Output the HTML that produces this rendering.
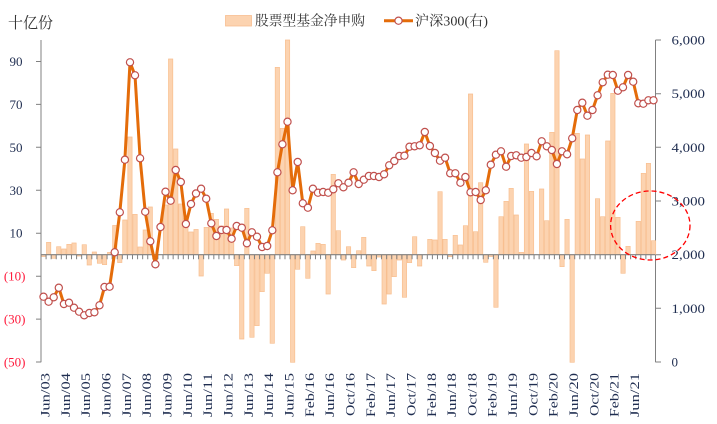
<!DOCTYPE html>
<html><head><meta charset="utf-8"><style>
html,body{margin:0;padding:0;background:#fff;}
svg{display:block;}
.ax{font-family:"Liberation Serif",serif;font-size:13px;fill:#1f2d50;}
.xl{font-family:"Liberation Serif",serif;font-size:12.5px;fill:#1f2d50;}
.cj{font-family:"Liberation Serif","Noto Serif CJK SC",serif;fill:#333;}
</style></head><body>
<svg width="717" height="424" viewBox="0 0 717 424" xmlns="http://www.w3.org/2000/svg">
<defs>
<marker id="mk" markerWidth="10" markerHeight="10" refX="5" refY="5" markerUnits="userSpaceOnUse" overflow="visible">
<circle cx="5" cy="5" r="3.6" fill="#fff" stroke="#c0504d" stroke-width="1.2"/>
</marker>
</defs>
<rect width="717" height="424" fill="#fff"/>
<text class="cj" x="8" y="28" font-size="15.5" textLength="45" lengthAdjust="spacingAndGlyphs">十亿份</text>
<rect x="225.5" y="15.5" width="26" height="10.5" fill="#fcd3b0" stroke="#f8bf90" stroke-width="0.8"/>
<text class="cj" x="255" y="25.5" font-size="14" textLength="110" lengthAdjust="spacingAndGlyphs">股票型基金净申购</text>
<line x1="384" y1="20.7" x2="413" y2="20.7" stroke="#e46c0a" stroke-width="3"/>
<circle cx="398.5" cy="20.7" r="3.6" fill="#fff" stroke="#c0504d" stroke-width="1.2"/>
<text class="cj" x="415" y="25.5" font-size="14" textLength="73" lengthAdjust="spacingAndGlyphs">沪深300(右)</text>

<g stroke="#808080" stroke-width="1" fill="none">
<path d="M41,40V362.3M655.5,40V362.3"/>
<path d="M36,61.5H41M36,104.4H41M36,147.3H41M36,190.3H41M36,233.2H41M36,276.2H41M36,319.1H41M36,362H41"/>
<path d="M655.5,40H661M655.5,93.7H661M655.5,147.3H661M655.5,201H661M655.5,254.7H661M655.5,308.3H661M655.5,362H661"/>
</g>
<g class="ax" text-anchor="end" dominant-baseline="central">
<text x="22.5" y="61.5">90</text>
<text x="22.5" y="104.4">70</text>
<text x="22.5" y="147.3">50</text>
<text x="22.5" y="190.3">30</text>
<text x="22.5" y="233.2">10</text>
<text x="25.5" y="276.2" style="fill:#ff1a3c">(10)</text>
<text x="25.5" y="319.1" style="fill:#ff1a3c">(30)</text>
<text x="25.5" y="362" style="fill:#ff1a3c">(50)</text>
</g>
<g class="ax" dominant-baseline="central">
<text x="671.5" y="40" textLength="33.5" lengthAdjust="spacingAndGlyphs">6,000</text>
<text x="671.5" y="93.7" textLength="33.5" lengthAdjust="spacingAndGlyphs">5,000</text>
<text x="671.5" y="147.3" textLength="33.5" lengthAdjust="spacingAndGlyphs">4,000</text>
<text x="671.5" y="201" textLength="33.5" lengthAdjust="spacingAndGlyphs">3,000</text>
<text x="671.5" y="254.7" textLength="33.5" lengthAdjust="spacingAndGlyphs">2,000</text>
<text x="671.5" y="308.3" textLength="33.5" lengthAdjust="spacingAndGlyphs">1,000</text>
<text x="671.5" y="362">0</text>
</g>

<path fill="#fcd3b0" stroke="#f8bf90" stroke-width="0.7" d="M41.4,254.7V256.5h4.3V254.7z M46.5,254.7V242.3h4.3V254.7z M51.6,254.7V258.3h4.3V254.7z M56.6,254.7V246.7h4.3V254.7z M61.7,254.7V249h4.3V254.7z M66.8,254.7V244.3h4.3V254.7z M71.9,254.7V243h4.3V254.7z M77,254.7V256h4.3V254.7z M82.1,254.7V244.7h4.3V254.7z M87.1,254.7V265h4.3V254.7z M92.2,254.7V252h4.3V254.7z M97.3,254.7V263.3h4.3V254.7z M102.4,254.7V264.7h4.3V254.7z M107.5,254.7V252.3h4.3V254.7z M112.6,254.7V225.5h4.3V254.7z M117.6,254.7V262.5h4.3V254.7z M122.7,254.7V220h4.3V254.7z M127.8,254.7V137h4.3V254.7z M132.9,254.7V214.3h4.3V254.7z M138,254.7V247h4.3V254.7z M143.1,254.7V230h4.3V254.7z M148.1,254.7V207h4.3V254.7z M163.4,254.7V205h4.3V254.7z M168.5,254.7V59h4.3V254.7z M173.6,254.7V149h4.3V254.7z M178.6,254.7V204h4.3V254.7z M183.7,254.7V218h4.3V254.7z M188.8,254.7V232h4.3V254.7z M193.9,254.7V229.5h4.3V254.7z M199,254.7V276h4.3V254.7z M204.1,254.7V227.3h4.3V254.7z M209.1,254.7V213.3h4.3V254.7z M214.2,254.7V219.3h4.3V254.7z M219.3,254.7V226h4.3V254.7z M224.4,254.7V209h4.3V254.7z M229.5,254.7V228h4.3V254.7z M234.5,254.7V265.7h4.3V254.7z M239.6,254.7V339h4.3V254.7z M244.7,254.7V208.3h4.3V254.7z M249.8,254.7V337.3h4.3V254.7z M254.9,254.7V325.7h4.3V254.7z M260,254.7V291.7h4.3V254.7z M265,254.7V273.3h4.3V254.7z M270.1,254.7V343.3h4.3V254.7z M275.2,254.7V67.3h4.3V254.7z M280.3,254.7V128.3h4.3V254.7z M285.4,254.7V40h4.3V254.7z M290.5,254.7V362.3h4.3V254.7z M295.5,254.7V269.3h4.3V254.7z M300.6,254.7V226.7h4.3V254.7z M305.7,254.7V278.3h4.3V254.7z M310.8,254.7V251h4.3V254.7z M315.9,254.7V243.3h4.3V254.7z M321,254.7V244.3h4.3V254.7z M326,254.7V294h4.3V254.7z M331.1,254.7V174.3h4.3V254.7z M336.2,254.7V230.7h4.3V254.7z M341.3,254.7V260h4.3V254.7z M346.4,254.7V246.7h4.3V254.7z M351.5,254.7V267.7h4.3V254.7z M356.5,254.7V250.7h4.3V254.7z M361.6,254.7V237.3h4.3V254.7z M366.7,254.7V266h4.3V254.7z M371.8,254.7V270.7h4.3V254.7z M376.9,254.7V257h4.3V254.7z M382,254.7V304h4.3V254.7z M387,254.7V294h4.3V254.7z M392.1,254.7V276.7h4.3V254.7z M397.2,254.7V260h4.3V254.7z M402.3,254.7V297.3h4.3V254.7z M407.4,254.7V262.7h4.3V254.7z M412.5,254.7V236.7h4.3V254.7z M417.5,254.7V266h4.3V254.7z M427.7,254.7V239.3h4.3V254.7z M432.8,254.7V240h4.3V254.7z M437.9,254.7V191.7h4.3V254.7z M442.9,254.7V239.3h4.3V254.7z M448,254.7V256.7h4.3V254.7z M453.1,254.7V235.3h4.3V254.7z M458.2,254.7V245h4.3V254.7z M463.3,254.7V225.7h4.3V254.7z M468.4,254.7V94h4.3V254.7z M473.4,254.7V231.7h4.3V254.7z M478.5,254.7V182.7h4.3V254.7z M483.6,254.7V262.3h4.3V254.7z M488.7,254.7V256.5h4.3V254.7z M493.8,254.7V307.3h4.3V254.7z M498.9,254.7V216.7h4.3V254.7z M503.9,254.7V201.3h4.3V254.7z M509,254.7V188.3h4.3V254.7z M514.1,254.7V215h4.3V254.7z M519.2,254.7V252.3h4.3V254.7z M524.3,254.7V144h4.3V254.7z M529.4,254.7V191.3h4.3V254.7z M539.5,254.7V189h4.3V254.7z M544.6,254.7V220.7h4.3V254.7z M549.7,254.7V132.3h4.3V254.7z M554.8,254.7V50.7h4.3V254.7z M559.9,254.7V266.7h4.3V254.7z M564.9,254.7V219.3h4.3V254.7z M570,254.7V362.3h4.3V254.7z M575.1,254.7V133.3h4.3V254.7z M580.2,254.7V159h4.3V254.7z M585.3,254.7V135h4.3V254.7z M595.4,254.7V198.7h4.3V254.7z M600.5,254.7V216.7h4.3V254.7z M605.6,254.7V141h4.3V254.7z M610.7,254.7V93.3h4.3V254.7z M615.8,254.7V217.3h4.3V254.7z M620.9,254.7V273.3h4.3V254.7z M625.9,254.7V246.3h4.3V254.7z M636.1,254.7V221.3h4.3V254.7z M641.2,254.7V173.3h4.3V254.7z M646.3,254.7V163.3h4.3V254.7z M651.4,254.7V240.7h4.3V254.7z"/>

<line x1="41" y1="254.7" x2="655.5" y2="254.7" stroke="#808080" stroke-width="1.2"/>
<line x1="40.5" y1="257" x2="655.5" y2="257" stroke="#808080" stroke-width="4.5" stroke-dasharray="1 4.083"/>

<polyline fill="none" stroke="#e46c0a" stroke-width="3" stroke-linejoin="round" marker-start="url(#mk)" marker-mid="url(#mk)" marker-end="url(#mk)" points="43.5,296.7 48.6,301.7 53.7,297.3 58.8,287.7 63.9,304 69.0,302.7 74.0,307.7 79.1,311.7 84.2,315.3 89.3,313 94.4,312.3 99.5,305.3 104.5,287 109.6,286.7 114.7,252.3 119.8,212.3 124.9,159.7 130.0,62.3 135.0,75.3 140.1,158.3 145.2,211.7 150.3,241.3 155.4,264.3 160.5,227 165.5,191.7 170.6,200.7 175.7,170 180.8,182 185.9,224 191.0,204 196.0,193.5 201.1,188.7 206.2,198.7 211.3,223.3 216.4,236 221.4,230 226.5,230 231.6,238.7 236.7,226 241.8,227.7 246.9,243.3 251.9,232.3 257.0,236.7 262.1,247 267.2,246 272.3,230.3 277.4,172.3 282.4,144.3 287.5,121.7 292.6,190.3 297.7,162 302.8,203.3 307.9,207.7 312.9,188.7 318.0,192.7 323.1,192 328.2,192.7 333.3,189.3 338.4,183.3 343.4,187.3 348.5,182.7 353.6,172.3 358.7,184 363.8,179.7 368.9,176 373.9,176 379.0,177 384.1,174.3 389.2,165.3 394.3,161 399.4,156 404.4,155.7 409.5,146.7 414.6,146.3 419.7,145.3 424.8,132 429.9,146 434.9,153 440.0,160.7 445.1,157.7 450.2,173.3 455.3,173.3 460.4,182.7 465.4,177 470.5,192.3 475.6,192 480.7,200 485.8,190.3 490.8,164.7 495.9,154.7 501.0,151.3 506.1,166.7 511.2,156 516.3,155.3 521.3,157.7 526.4,157 531.5,153 536.6,156.3 541.7,141.3 546.8,146.3 551.8,150 556.9,164 562.0,151.3 567.1,154.3 572.2,138.3 577.3,110 582.3,102.7 587.4,115.7 592.5,110 597.6,95.3 602.7,82.3 607.8,74.7 612.8,75 617.9,90.7 623.0,87.3 628.1,75 633.2,81.7 638.3,103.3 643.3,103.7 648.4,100.3 653.5,100.3"/>

<ellipse cx="650.3" cy="225.5" rx="39.7" ry="34.5" fill="none" stroke="#ff0000" stroke-width="1.3" stroke-dasharray="5,3"/>

<g class="xl" text-anchor="end">
<text transform="translate(45,373) rotate(-90)" dy="0.35em" textLength="44" lengthAdjust="spacingAndGlyphs">Jun/03</text>
<text transform="translate(65.4,373) rotate(-90)" dy="0.35em" textLength="44" lengthAdjust="spacingAndGlyphs">Jun/04</text>
<text transform="translate(85.7,373) rotate(-90)" dy="0.35em" textLength="44" lengthAdjust="spacingAndGlyphs">Jun/05</text>
<text transform="translate(106,373) rotate(-90)" dy="0.35em" textLength="44" lengthAdjust="spacingAndGlyphs">Jun/06</text>
<text transform="translate(126.4,373) rotate(-90)" dy="0.35em" textLength="44" lengthAdjust="spacingAndGlyphs">Jun/07</text>
<text transform="translate(146.7,373) rotate(-90)" dy="0.35em" textLength="44" lengthAdjust="spacingAndGlyphs">Jun/08</text>
<text transform="translate(167,373) rotate(-90)" dy="0.35em" textLength="44" lengthAdjust="spacingAndGlyphs">Jun/09</text>
<text transform="translate(187.4,373) rotate(-90)" dy="0.35em" textLength="44" lengthAdjust="spacingAndGlyphs">Jun/10</text>
<text transform="translate(207.7,373) rotate(-90)" dy="0.35em" textLength="44" lengthAdjust="spacingAndGlyphs">Jun/11</text>
<text transform="translate(228,373) rotate(-90)" dy="0.35em" textLength="44" lengthAdjust="spacingAndGlyphs">Jun/12</text>
<text transform="translate(248.4,373) rotate(-90)" dy="0.35em" textLength="44" lengthAdjust="spacingAndGlyphs">Jun/13</text>
<text transform="translate(268.7,373) rotate(-90)" dy="0.35em" textLength="44" lengthAdjust="spacingAndGlyphs">Jun/14</text>
<text transform="translate(289,373) rotate(-90)" dy="0.35em" textLength="44" lengthAdjust="spacingAndGlyphs">Jun/15</text>
<text transform="translate(309.4,373) rotate(-90)" dy="0.35em" textLength="44" lengthAdjust="spacingAndGlyphs">Feb/16</text>
<text transform="translate(329.7,373) rotate(-90)" dy="0.35em" textLength="44" lengthAdjust="spacingAndGlyphs">Jun/16</text>
<text transform="translate(350,373) rotate(-90)" dy="0.35em" textLength="43" lengthAdjust="spacingAndGlyphs">Oct/16</text>
<text transform="translate(370.4,373) rotate(-90)" dy="0.35em" textLength="44" lengthAdjust="spacingAndGlyphs">Feb/17</text>
<text transform="translate(390.7,373) rotate(-90)" dy="0.35em" textLength="44" lengthAdjust="spacingAndGlyphs">Jun/17</text>
<text transform="translate(411,373) rotate(-90)" dy="0.35em" textLength="43" lengthAdjust="spacingAndGlyphs">Oct/17</text>
<text transform="translate(431.4,373) rotate(-90)" dy="0.35em" textLength="44" lengthAdjust="spacingAndGlyphs">Feb/18</text>
<text transform="translate(451.7,373) rotate(-90)" dy="0.35em" textLength="44" lengthAdjust="spacingAndGlyphs">Jun/18</text>
<text transform="translate(472,373) rotate(-90)" dy="0.35em" textLength="43" lengthAdjust="spacingAndGlyphs">Oct/18</text>
<text transform="translate(492.3,373) rotate(-90)" dy="0.35em" textLength="44" lengthAdjust="spacingAndGlyphs">Feb/19</text>
<text transform="translate(512.7,373) rotate(-90)" dy="0.35em" textLength="44" lengthAdjust="spacingAndGlyphs">Jun/19</text>
<text transform="translate(533,373) rotate(-90)" dy="0.35em" textLength="43" lengthAdjust="spacingAndGlyphs">Oct/19</text>
<text transform="translate(553.3,373) rotate(-90)" dy="0.35em" textLength="44" lengthAdjust="spacingAndGlyphs">Feb/20</text>
<text transform="translate(573.7,373) rotate(-90)" dy="0.35em" textLength="44" lengthAdjust="spacingAndGlyphs">Jun/20</text>
<text transform="translate(594,373) rotate(-90)" dy="0.35em" textLength="43" lengthAdjust="spacingAndGlyphs">Oct/20</text>
<text transform="translate(614.3,373) rotate(-90)" dy="0.35em" textLength="44" lengthAdjust="spacingAndGlyphs">Feb/21</text>
<text transform="translate(634.7,373) rotate(-90)" dy="0.35em" textLength="44" lengthAdjust="spacingAndGlyphs">Jun/21</text>
</g>
</svg>
</body></html>
